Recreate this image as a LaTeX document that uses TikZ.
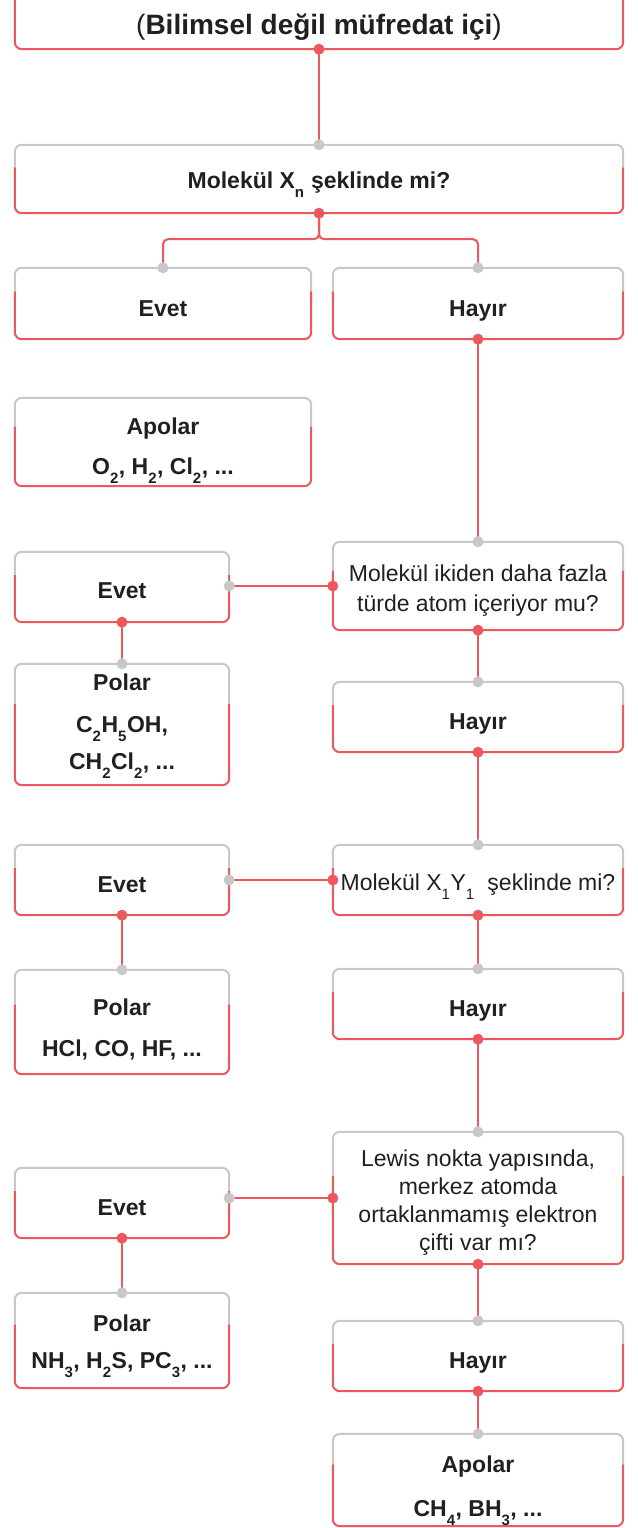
\documentclass[tikz,border=0pt]{standalone}
\usepackage{fontspec}
\setmainfont{Liberation Sans}
\usetikzlibrary{calc}
\definecolor{cred}{RGB}{237,88,92}
\definecolor{cgray}{RGB}{200,200,202}
\definecolor{ctext}{RGB}{35,31,32}
\newcommand\sbx[1]{\raisebox{-0.38em}{\fontsize{15}{15}\selectfont #1}\kern0.5pt\relax}
\def\spf{0.33}
% #1 text options, #2 name, #3 x1, #4 y1, #5 x2, #6 y2, #7 text
\newcommand\mybox[7][]{%
  \node[boxshape,minimum width={#5-#3},minimum height={#6-#4}] (#2) at ({(#3+#5)/2},{(#4+#6)/2}) {};
  \node[boxtext,#1] (#2t) at (#2.center) {#7};
  \draw[grayline] ($(#2.north west)!\spf!(#2.south west)$) -- (#2.north west) -- (#2.north east) -- ($(#2.north east)!\spf!(#2.south east)$);
  \draw[redline] ($(#2.north west)!\spf!(#2.south west)$) -- (#2.south west) -- (#2.south east) -- ($(#2.north east)!\spf!(#2.south east)$);
}
\tikzset{
  boxshape/.style={rectangle, inner sep=0pt, fill=white},
  boxtext/.style={inner sep=0pt, text=ctext, align=center, font=\fontsize{23}{28}\selectfont},
  bold/.style={font=\fontsize{23}{28}\selectfont\bfseries},
  titlefont/.style={font=\fontsize{28}{32}\selectfont\bfseries},
  grayline/.style={draw=cgray, line width=2pt, rounded corners=7pt},
  redline/.style={draw=cred, line width=2pt, rounded corners=7pt},
  conn/.style={draw=cred, line width=2pt},
  rdot/.style={circle, fill=cred, inner sep=0pt, minimum size=11pt},
  gdot/.style={circle, fill=cgray, inner sep=0pt, minimum size=11pt}
}
\begin{document}
\begin{tikzpicture}[x=1pt,y=-1pt]
\clip (0,0) rectangle (637,1528);
\fill[white] (0,0) rectangle (637,1528);
\def\spf{0}
\mybox[titlefont,yshift=-3pt]{T}{15}{-1}{623}{49}{{\mdseries(}Bilimsel değil müfredat içi{\mdseries)}}
\def\spf{0.33}
\mybox[bold,yshift=-6pt]{B2}{15}{145}{623}{213}{Molekül X\sbx{n} şeklinde mi?}
\mybox[bold,yshift=-5pt]{E1}{15}{268}{311}{339}{Evet}
\mybox[bold,yshift=-7pt]{H1}{333}{268}{623}{339}{Hayır}
\mybox[bold,yshift=-8.5pt]{A1}{15}{398}{311}{486}{Apolar\\[12pt]O\sbx{2}, H\sbx{2}, Cl\sbx{2}, ...}
\mybox[yshift=-5pt]{Q2}{333}{542}{623}{630}{Molekül ikiden daha fazla\\[2pt]türde atom içeriyor mu?}
\mybox[bold,yshift=-4pt]{E2}{15}{552}{229}{622}{Evet}
\mybox[bold,yshift=-1.5pt]{P2}{15}{664}{229}{785}{Polar\\[14pt]C\sbx{2}H\sbx{5}OH,\\[9pt]CH\sbx{2}Cl\sbx{2}, ...}
\mybox[bold,yshift=-7pt]{H2}{333}{682}{623}{752}{Hayır}
\mybox[yshift=-7pt]{Q3}{333}{845}{623}{915}{Molekül X\sbx{1}Y\sbx{1}\ \ şeklinde mi?}
\mybox[bold,yshift=-5pt]{E3}{15}{845}{229}{915}{Evet}
\mybox[bold,yshift=-7pt]{P3}{15}{970}{229}{1074}{Polar\\[13pt]HCl, CO, HF, ...}
\mybox[bold,yshift=-7pt]{H3}{333}{969}{623}{1039}{Hayır}
\mybox[yshift=-5pt]{Q4}{333}{1132}{623}{1264}{Lewis nokta yapısında,\\merkez atomda\\ortaklanmamış elektron\\çifti var mı?}
\mybox[bold,yshift=-5pt]{E4}{15}{1168}{229}{1238}{Evet}
\mybox[bold,yshift=-6pt]{P4}{15}{1293}{229}{1388}{Polar\\[9pt]NH\sbx{3}, H\sbx{2}S, PC\sbx{3}, ...}
\mybox[bold,yshift=-7pt]{H4}{333}{1321}{623}{1391}{Hayır}
\mybox[bold,yshift=-10.5pt]{A2}{333}{1434}{623}{1526}{Apolar\\[16pt]CH\sbx{4}, BH\sbx{3}, ...}
% connectors
\coordinate (c2) at (Q2.west -| E2.east);
\coordinate (c3) at (Q3.west -| E3.east);
\coordinate (c4) at (Q4.west -| E4.east);
\draw[conn] (T.south) -- (B2.north);
\draw[conn, rounded corners=5pt] (B2.south) -- ++(0,26) -| (E1.north);
\draw[conn, rounded corners=5pt] (B2.south) -- ++(0,26) -| (H1.north);
\draw[conn] (H1.south) -- (Q2.north);
\draw[conn] (Q2.west) -- (c2);
\draw[conn] (E2.south) -- (P2.north);
\draw[conn] (Q2.south) -- (H2.north);
\draw[conn] (H2.south) -- (Q3.north);
\draw[conn] (Q3.west) -- (c3);
\draw[conn] (E3.south) -- (P3.north);
\draw[conn] (Q3.south) -- (H3.north);
\draw[conn] (H3.south) -- (Q4.north);
\draw[conn] (Q4.west) -- (c4);
\draw[conn] (E4.south) -- (P4.north);
\draw[conn] (Q4.south) -- (H4.north);
\draw[conn] (H4.south) -- (A2.north);
% dots
\foreach \p [count=\i] in {T.south,B2.south,H1.south,Q2.west,E2.south,Q2.south,H2.south,Q3.west,E3.south,Q3.south,H3.south,Q4.west,E4.south,Q4.south,H4.south}
  \node[rdot] (r\i) at (\p) {};
\foreach \p [count=\i] in {B2.north,E1.north,H1.north,Q2.north,c2,P2.north,H2.north,Q3.north,c3,P3.north,H3.north,Q4.north,c4,P4.north,H4.north,A2.north}
  \node[gdot] (g\i) at (\p) {};
\end{tikzpicture}
\end{document}
